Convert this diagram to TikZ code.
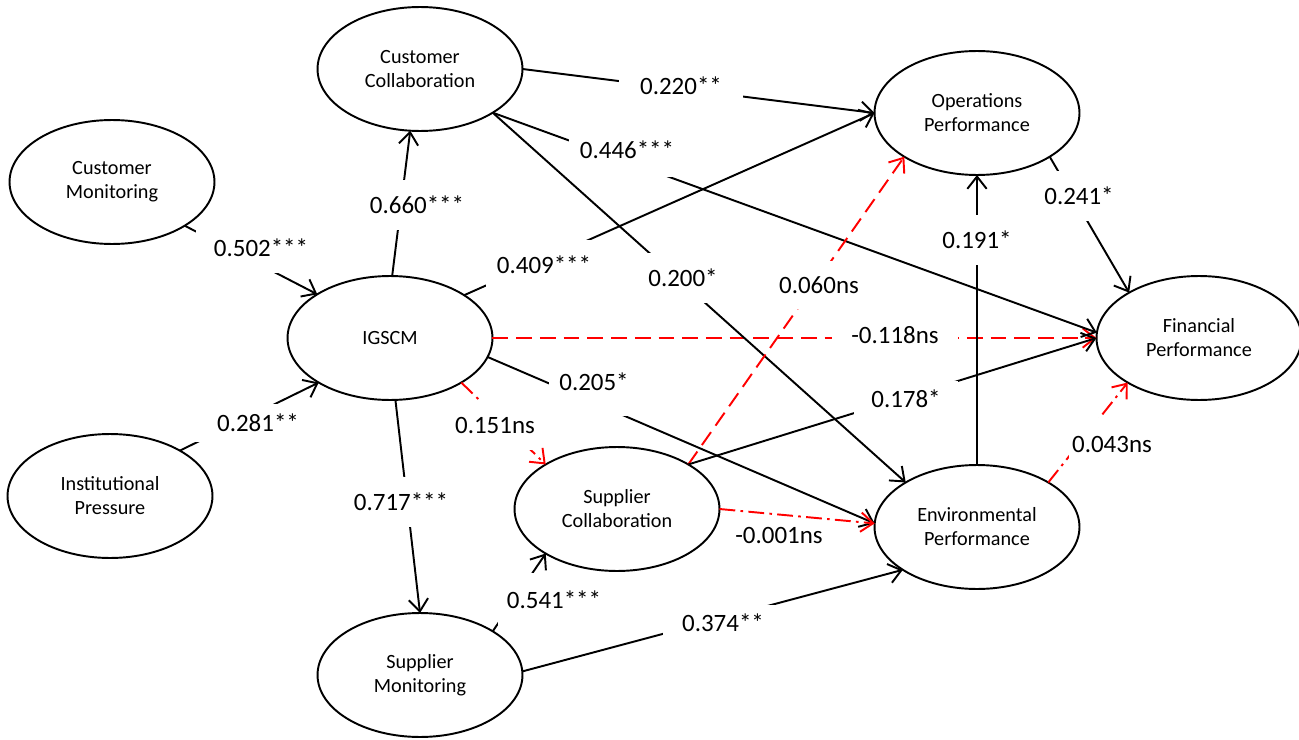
\documentclass[tikz,border=0pt]{standalone}
\usepackage{fontspec}
\setmainfont{Carlito}
\usetikzlibrary{shapes.geometric,arrows.meta}
\begin{document}
\begin{tikzpicture}[x=0.02cm,y=-0.02cm,
  ell/.style={ellipse,draw,line width=1.1pt,fill=white,inner sep=0pt,outer sep=0pt,align=center,
    minimum width=4.1cm,minimum height=2.48cm,font=\fontsize{11.5}{13.6}\selectfont},
  conn/.style={line width=1.1pt,-{Straight Barb[length=7pt,width=11pt]}},
  nsline/.style={conn,red},
  nsdash/.style={nsline,dash pattern=on 9pt off 4.5pt},
  nsdot/.style={nsline,dash pattern=on 9pt off 3pt on 1.5pt off 3pt},
  lbl/.style={fill=white,inner xsep=2pt,inner ysep=3pt,font=\fontsize{14.2}{16}\selectfont},
  tall/.style={inner ysep=9pt}]
\useasboundingbox (0,0) rectangle (1299,740);

% latent variables
\node[ell] (CC) at (420,69)  {Customer\\Collaboration};
\node[ell] (CM) at (112,182) {Customer\\Monitoring};
\node[ell] (IG) at (390,338) {IGSCM};
\node[ell] (IP) at (110,496) {Institutional\\Pressure};
\node[ell] (OP) at (977,113) {Operations\\Performance};
\node[ell] (FP) at (1199,338) {Financial\\Performance};
\node[ell] (SC) at (617,509) {Supplier\\Collaboration};
\node[ell] (EP) at (977,527) {Environmental\\Performance};
\node[ell] (SM) at (420,675) {Supplier\\Monitoring};

% paths
\draw[conn]   (CM.-31) -- (IG.149);
\draw[conn]   (IP.33)  -- (IG.212);
\draw[conn]   (IG.88)  -- (CC.261);
\draw[conn]   (IG.275) -- (SM.90);
\draw[conn]   (IG.30)  -- (OP.180);
\draw[nsdash] (IG.0)   -- (FP.180);
\draw[conn]   (IG.-11) -- (EP.178);
\draw[nsdot]  (IG.-32) -- (SC.148);
\draw[conn]   (SM.31)  -- (SC.212);
\draw[conn]   (SM.2)   -- (EP.210);
\draw[conn]   (CC.0)   -- (OP.180);
\draw[conn]   (CC.-31) -- (FP.177);
\draw[conn]   (CC.-31) -- (EP.148);
\draw[nsdash] (SC.32)  -- (OP.211);
\draw[conn]   (SC.32)  -- (FP.180);
\draw[nsdot]  (SC.0)   -- (EP.178);
\draw[conn]   (EP.90)  -- (OP.270);
\draw[conn]   (OP.-31) -- (FP.147);
\draw[nsdot]  (EP.32)  -- (FP.212);

% path coefficients
\node[lbl,inner xsep=10pt,inner ysep=9pt] (l1) at (261,248) {0.502***};
\node[lbl,inner xsep=18pt,inner ysep=6pt] (l2) at (258,423) {0.281**};
\node[lbl,tall] (l3) at (417,205) {0.660***};
\node[lbl,tall] (l4) at (401,502) {0.717***};
\node[lbl,tall,inner xsep=6pt] (l5) at (544,265) {0.409***};
\node[lbl,inner xsep=11pt] (l6) at (895,335) {-0.118ns};
\node[lbl,inner xsep=6pt,inner ysep=14pt] (l7) at (594,382) {0.205*};
\node[lbl,inner ysep=9.5pt] (l8) at (495,425) {0.151ns};
\node[lbl,inner xsep=5pt,inner ysep=10pt] (l9) at (554,600) {0.541***};
\node[lbl,inner xsep=11pt,inner ysep=5pt] (l10) at (723,623) {0.374**};
\node[lbl,inner xsep=12pt] (l11) at (681,86) {0.220**};
\node[lbl,inner xsep=6pt,inner ysep=10pt] (l12) at (627,150) {0.446***};
\node[lbl,tall] (l13) at (683,278) {0.200*};
\node[lbl,tall] (l14) at (819,285) {0.060ns};
\node[lbl,inner xsep=10pt,inner ysep=5pt] (l15) at (906,399) {0.178*};
\node[lbl,fill=none] (l16) at (779,535) {-0.001ns};
\node[lbl,tall] (l17) at (977,240) {0.191*};
\node[lbl,tall] (l18) at (1079,196) {0.241*};
\node[lbl,inner ysep=10pt] (l19) at (1112,444) {0.043ns};
\end{tikzpicture}
\end{document}
